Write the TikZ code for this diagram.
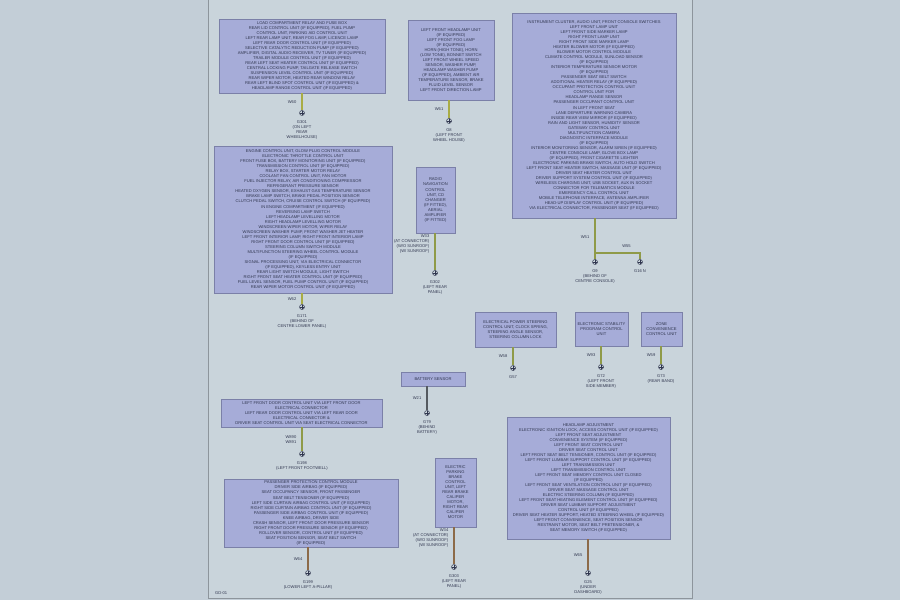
\documentclass[tikz,border=0pt]{standalone}
\usepackage{fontspec}
\setmainfont{Liberation Sans}
\usetikzlibrary{positioning, calc}

\definecolor{pagebg}{HTML}{C3CED7}
\definecolor{sheet}{HTML}{C9D4DB}
\definecolor{sheetline}{HTML}{8D959C}
\definecolor{boxfill}{HTML}{A6ACD8}
\definecolor{boxline}{HTML}{7B80A8}
\definecolor{ink}{HTML}{30364F}
\definecolor{wireyg}{HTML}{A9AC45}
\definecolor{wireol}{HTML}{8F9A48}
\definecolor{wirebr}{HTML}{8C6A48}
\definecolor{wiredk}{HTML}{555A60}

\begin{document}
\begin{tikzpicture}[
    x=0.03cm, y=-0.03cm,
    every node/.style={align=center, text=ink,
                       font=\fontsize{3.5}{4.27}\selectfont},
    unit/.style={draw=boxline, fill=boxfill, line width=0.5pt,
                 inner sep=1pt},
    wire/.style={line width=1.1pt},
    gnd/.style={circle, draw=ink, fill=sheet, line width=0.4pt,
                inner sep=0pt, minimum size=0.15cm,
                path picture={\draw[ink, line width=0.3pt]
                  (path picture bounding box.west) -- (path picture bounding box.east)
                  (path picture bounding box.north) -- (path picture bounding box.south);}},
    wlabel/.style={left=1pt, align=right},
    gtext/.style={below=0.5pt}
]

% Page and sheet
\useasboundingbox (0,0) rectangle (900,600);
\fill[pagebg] (0,0) rectangle (900,600);
\draw[sheetline, fill=sheet, line width=0.6pt] (208,-1) rectangle (692,598);

% 1) Control units (upper half)
\node[unit, minimum width=4.98cm, minimum height=2.22cm] (unitA) at (302,56)
  {LOAD COMPARTMENT RELAY AND FUSE BOX\\
   REAR LID CONTROL UNIT (IF EQUIPPED), FUEL PUMP\\
   CONTROL UNIT, PARKING AID CONTROL UNIT\\
   LEFT REAR LAMP UNIT, REAR FOG LAMP, LICENCE LAMP\\
   LEFT REAR DOOR CONTROL UNIT (IF EQUIPPED)\\
   SELECTIVE CATALYTIC REDUCTION PUMP (IF EQUIPPED)\\
   AMPLIFIER, DIGITAL AUDIO RECEIVER, TV TUNER (IF EQUIPPED)\\
   TRAILER MODULE CONTROL UNIT (IF EQUIPPED)\\
   REAR LEFT SEAT HEATER CONTROL UNIT (IF EQUIPPED)\\
   CENTRAL LOCKING PUMP, TAILGATE RELEASE SWITCH\\
   SUSPENSION LEVEL CONTROL UNIT (IF EQUIPPED)\\
   REAR WIPER MOTOR, HEATED REAR WINDOW RELAY\\
   REAR LEFT BLIND SPOT CONTROL UNIT (IF EQUIPPED) \&\\
   HEADLAMP RANGE CONTROL UNIT (IF EQUIPPED)};

\node[unit, minimum width=2.58cm, minimum height=2.40cm] (unitB) at (451,60)
  {LEFT FRONT HEADLAMP UNIT\\
   (IF EQUIPPED)\\
   LEFT FRONT FOG LAMP\\
   (IF EQUIPPED)\\
   HORN (HIGH TONE), HORN\\
   (LOW TONE), BONNET SWITCH\\
   LEFT FRONT WHEEL SPEED\\
   SENSOR, WASHER PUMP,\\
   HEADLAMP WASHER PUMP\\
   (IF EQUIPPED), AMBIENT AIR\\
   TEMPERATURE SENSOR, BRAKE\\
   FLUID LEVEL SENSOR\\
   LEFT FRONT DIRECTION LAMP};

\node[unit, minimum width=4.92cm, minimum height=6.15cm] (unitC) at (594,115.5)
  {INSTRUMENT CLUSTER, AUDIO UNIT, FRONT CONSOLE SWITCHES\\
   LEFT FRONT LAMP UNIT\\
   LEFT FRONT SIDE MARKER LAMP\\
   RIGHT FRONT LAMP UNIT\\
   RIGHT FRONT SIDE MARKER LAMP\\
   HEATER BLOWER MOTOR (IF EQUIPPED)\\
   BLOWER MOTOR CONTROL MODULE\\
   CLIMATE CONTROL MODULE, SUNLOAD SENSOR\\
   (IF EQUIPPED)\\
   INTERIOR TEMPERATURE SENSOR MOTOR\\
   (IF EQUIPPED)\\
   PASSENGER SEAT BELT SWITCH\\
   ADDITIONAL HEATER RELAY (IF EQUIPPED)\\
   OCCUPANT PROTECTION CONTROL UNIT\\
   CONTROL UNIT FOR\\
   HEADLAMP RANGE SENSOR\\
   PASSENGER OCCUPANT CONTROL UNIT\\
   IN LEFT FRONT SEAT\\
   LANE DEPARTURE WARNING CAMERA\\
   INSIDE REAR VIEW MIRROR (IF EQUIPPED)\\
   RAIN AND LIGHT SENSOR, HUMIDITY SENSOR\\
   GATEWAY CONTROL UNIT\\
   MULTIFUNCTION CAMERA\\
   DIAGNOSTIC INTERFACE MODULE\\
   (IF EQUIPPED)\\
   INTERIOR MONITORING SENSOR, ALARM SIREN (IF EQUIPPED)\\
   CENTRE CONSOLE LAMP, GLOVE BOX LAMP\\
   (IF EQUIPPED), FRONT CIGARETTE LIGHTER\\
   ELECTRONIC PARKING BRAKE SWITCH, AUTO HOLD SWITCH\\
   LEFT FRONT SEAT HEATER SWITCH, MASSAGE UNIT (IF EQUIPPED)\\
   DRIVER SEAT HEATER CONTROL UNIT\\
   DRIVER SUPPORT SYSTEM CONTROL UNIT (IF EQUIPPED)\\
   WIRELESS CHARGING UNIT, USB SOCKET, AUX IN SOCKET\\
   CONNECTOR FOR TELEMATICS MODULE\\
   EMERGENCY CALL CONTROL UNIT\\
   MOBILE TELEPHONE INTERFACE, ANTENNA AMPLIFIER\\
   HEAD-UP DISPLAY CONTROL UNIT (IF EQUIPPED)\\
   VIA ELECTRICAL CONNECTOR, PASSENGER SEAT (IF EQUIPPED)};

\node[unit, minimum width=5.34cm, minimum height=4.41cm] (unitD) at (303,219.5)
  {ENGINE CONTROL UNIT, GLOW PLUG CONTROL MODULE\\
   ELECTRONIC THROTTLE CONTROL UNIT\\
   FRONT FUSE BOX, BATTERY MONITORING UNIT (IF EQUIPPED)\\
   TRANSMISSION CONTROL UNIT (IF EQUIPPED)\\
   RELAY BOX, STARTER MOTOR RELAY\\
   COOLANT FAN CONTROL UNIT, FAN MOTOR\\
   FUEL INJECTOR RELAY, AIR CONDITIONING COMPRESSOR\\
   REFRIGERANT PRESSURE SENSOR\\
   HEATED OXYGEN SENSOR, EXHAUST GAS TEMPERATURE SENSOR\\
   BRAKE LAMP SWITCH, BRAKE PEDAL POSITION SENSOR\\
   CLUTCH PEDAL SWITCH, CRUISE CONTROL SWITCH (IF EQUIPPED)\\
   IN ENGINE COMPARTMENT (IF EQUIPPED)\\
   REVERSING LAMP SWITCH\\
   LEFT HEADLAMP LEVELLING MOTOR\\
   RIGHT HEADLAMP LEVELLING MOTOR\\
   WINDSCREEN WIPER MOTOR, WIPER RELAY\\
   WINDSCREEN WASHER PUMP, FRONT WASHER JET HEATER\\
   LEFT FRONT INTERIOR LAMP, RIGHT FRONT INTERIOR LAMP\\
   RIGHT FRONT DOOR CONTROL UNIT (IF EQUIPPED)\\
   STEERING COLUMN SWITCH MODULE\\
   MULTIFUNCTION STEERING WHEEL CONTROL MODULE\\
   (IF EQUIPPED)\\
   SIGNAL PROCESSING UNIT, VIA ELECTRICAL CONNECTOR\\
   (IF EQUIPPED), KEYLESS ENTRY UNIT\\
   REAR LIGHT SWITCH MODULE, LIGHT SWITCH\\
   RIGHT FRONT SEAT HEATER CONTROL UNIT (IF EQUIPPED)\\
   FUEL LEVEL SENSOR, FUEL PUMP CONTROL UNIT (IF EQUIPPED)\\
   REAR WIPER MOTOR CONTROL UNIT (IF EQUIPPED)};

\node[unit, minimum width=1.17cm, minimum height=1.98cm] (unitE) at (435.5,200)
  {RADIO\\
   NAVIGATION\\
   CONTROL\\
   UNIT, CD\\
   CHANGER\\
   (IF FITTED),\\
   AERIAL\\
   AMPLIFIER\\
   (IF FITTED)};

% 2) Control units (lower half)
\node[unit, minimum width=2.43cm, minimum height=1.05cm] (unitF) at (515.5,329.5)
  {ELECTRICAL POWER STEERING\\
   CONTROL UNIT, CLOCK SPRING,\\
   STEERING ANGLE SENSOR,\\
   STEERING COLUMN LOCK};

\node[unit, minimum width=1.59cm, minimum height=1.02cm] (unitG) at (601.5,329)
  {ELECTRONIC STABILITY\\
   PROGRAM CONTROL\\
   UNIT};

\node[unit, minimum width=1.23cm, minimum height=1.02cm] (unitH) at (661.5,329)
  {ZONE\\
   CONVENIENCE\\
   CONTROL UNIT};

\node[unit, minimum width=1.92cm, minimum height=0.42cm] (unitI) at (433,379)
  {BATTERY SENSOR};

\node[unit, minimum width=4.83cm, minimum height=0.84cm] (unitJ) at (301.5,413)
  {LEFT FRONT DOOR CONTROL UNIT VIA LEFT FRONT DOOR\\
   ELECTRICAL CONNECTOR\\
   LEFT REAR DOOR CONTROL UNIT VIA LEFT REAR DOOR\\
   ELECTRICAL CONNECTOR \&\\
   DRIVER SEAT CONTROL UNIT VIA SEAT ELECTRICAL CONNECTOR};

\node[unit, minimum width=5.22cm, minimum height=2.04cm] (unitK) at (311,513)
  {PASSENGER PROTECTION CONTROL MODULE\\
   DRIVER SIDE AIRBAG (IF EQUIPPED)\\
   SEAT OCCUPANCY SENSOR, FRONT PASSENGER\\
   SEAT BELT TENSIONER (IF EQUIPPED)\\
   LEFT SIDE CURTAIN AIRBAG CONTROL UNIT (IF EQUIPPED)\\
   RIGHT SIDE CURTAIN AIRBAG CONTROL UNIT (IF EQUIPPED)\\
   PASSENGER SIDE AIRBAG CONTROL UNIT (IF EQUIPPED)\\
   KNEE AIRBAG, DRIVER SIDE\\
   CRASH SENSOR, LEFT FRONT DOOR PRESSURE SENSOR\\
   RIGHT FRONT DOOR PRESSURE SENSOR (IF EQUIPPED)\\
   ROLLOVER SENSOR, CONTROL UNIT (IF EQUIPPED)\\
   SEAT POSITION SENSOR, SEAT BELT SWITCH\\
   (IF EQUIPPED)};

\node[unit, minimum width=1.23cm, minimum height=2.07cm] (unitL) at (455.5,492.5)
  {ELECTRIC\\
   PARKING\\
   BRAKE\\
   CONTROL\\
   UNIT, LEFT\\
   REAR BRAKE\\
   CALIPER\\
   MOTOR,\\
   RIGHT REAR\\
   CALIPER\\
   MOTOR};

\node[unit, minimum width=4.89cm, minimum height=3.66cm] (unitM) at (588.5,478)
  {HEADLAMP ADJUSTMENT\\
   ELECTRONIC IGNITION LOCK, ACCESS CONTROL UNIT (IF EQUIPPED)\\
   LEFT FRONT SEAT ADJUSTMENT\\
   CONVENIENCE SYSTEM (IF EQUIPPED)\\
   LEFT FRONT SEAT CONTROL UNIT\\
   DRIVER SEAT CONTROL UNIT\\
   LEFT FRONT SEAT BELT TENSIONER, CONTROL UNIT (IF EQUIPPED)\\
   LEFT FRONT LUMBAR SUPPORT CONTROL UNIT (IF EQUIPPED)\\
   LEFT TRANSMISSION UNIT\\
   LEFT TRANSMISSION CONTROL UNIT\\
   LEFT FRONT SEAT MEMORY CONTROL UNIT CLOSED\\
   (IF EQUIPPED)\\
   LEFT FRONT SEAT VENTILATION CONTROL UNIT (IF EQUIPPED)\\
   DRIVER SEAT MASSAGE CONTROL UNIT\\
   ELECTRIC STEERING COLUMN (IF EQUIPPED)\\
   LEFT FRONT SEAT HEATING ELEMENT CONTROL UNIT (IF EQUIPPED)\\
   DRIVER SEAT LUMBAR SUPPORT ADJUSTMENT\\
   CONTROL UNIT (IF EQUIPPED)\\
   DRIVER SEAT HEATER SUPPORT, HEATED STEERING WHEEL (IF EQUIPPED)\\
   LEFT FRONT CONVENIENCE, SEAT POSITION SENSOR\\
   RESTRAINT MOTOR, SEAT BELT PRETENSIONER, \&\\
   SEAT MEMORY SWITCH (IF EQUIPPED)};

% 3) Ground points
\node[gnd] (gA) at (302,113) {};
\node[gnd] (gB) at (449,121) {};
\node[gnd] (gC) at (595,262) {};
\node[gnd] (gC2) at (640,262) {};
\node[gnd] (gD) at (302,307) {};
\node[gnd] (gE) at (435,273) {};
\node[gnd] (gF) at (513,368) {};
\node[gnd] (gG) at (601,367) {};
\node[gnd] (gH) at (661,367) {};
\node[gnd] (gI) at (427,413) {};
\node[gnd] (gJ) at (302,454) {};
\node[gnd] (gK) at (308,573) {};
\node[gnd] (gL) at (454,567) {};
\node[gnd] (gM) at (588,573) {};
\coordinate (tapC) at (595,253);

% 4) Ground wires with wire numbers
\draw[wire, wireyg] (unitA.south -| gA) -- (gA.north) node[midway, wlabel] {W60};
\draw[wire, wireyg] (unitB.south -| gB) -- (gB.north) node[midway, wlabel] {W61};
\draw[wire, wireol] (unitC.south -| gC) -- (gC.north) node[pos=0.45, wlabel] {W51};
\draw[wire, wireol] (tapC) -| (gC2.north) node[pos=0.35, above=0.5pt] {W55};
\draw[wire, wireyg] (unitD.south -| gD) -- (gD.north) node[midway, wlabel] {W62};
\draw[wire, wireol] (unitE.south -| gE) -- (gE.north)
   node[pos=0.3, wlabel] {W33\\(AT CONNECTOR)\\(W/O SUNROOF)\\(W/ SUNROOF)};
\draw[wire, wireol] (unitF.south -| gF) -- (gF.north) node[midway, wlabel] {W58};
\draw[wire, wireol] (unitG.south -| gG) -- (gG.north) node[midway, wlabel] {W93};
\draw[wire, wireol] (unitH.south -| gH) -- (gH.north) node[midway, wlabel] {W59};
\draw[wire, wiredk] (unitI.south -| gI) -- (gI.north) node[midway, wlabel] {W21};
\draw[wire, wireol] (unitJ.south -| gJ) -- (gJ.north) node[midway, wlabel] {W890\\W891};
\draw[wire, wirebr] (unitK.south -| gK) -- (gK.north) node[midway, wlabel] {W64};
\draw[wire, wirebr] (unitL.south -| gL) -- (gL.north)
   node[pos=0.3, wlabel] {W34\\(AT CONNECTOR)\\(W/O SUNROOF)\\(W/ SUNROOF)};
\draw[wire, wirebr] (unitM.south -| gM) -- (gM.north) node[midway, wlabel] {W65};

% 5) Ground point locations
\node[gtext] (tA) at (gA.south) {G301\\(ON LEFT\\REAR\\WHEELHOUSE)};
\node[gtext] (tB) at (gB.south) {G8\\(LEFT FRONT\\WHEEL HOUSE)};
\node[gtext] (tC) at (gC.south) {G9\\(BEHIND OF\\CENTRE CONSOLE)};
\node[gtext] (tC2) at (gC2.south) {G16 N};
\node[gtext] (tD) at (gD.south) {G171\\(BEHIND OF\\CENTRE LOWER PANEL)};
\node[gtext] (tE) at (gE.south) {G302\\(LEFT REAR\\PANEL)};
\node[gtext] (tF) at (gF.south) {G57};
\node[gtext] (tG) at (gG.south) {G72\\(LEFT FRONT\\SIDE MEMBER)};
\node[gtext] (tH) at (gH.south) {G73\\(REAR BAND)};
\node[gtext] (tI) at (gI.south) {G79\\(BEHIND\\BATTERY)};
\node[gtext] (tJ) at (gJ.south) {G198\\(LEFT FRONT FOOTWELL)};
\node[gtext] (tK) at (gK.south) {G199\\(LOWER LEFT A-PILLAR)};
\node[gtext] (tL) at (gL.south) {G303\\(LEFT REAR\\PANEL)};
\node[gtext] (tM) at (gM.south) {G25\\(UNDER\\DASHBOARD)};

% Sheet reference
\node[anchor=west] (sheetref) at (211,593) {GD-01};

\end{tikzpicture}
\end{document}
